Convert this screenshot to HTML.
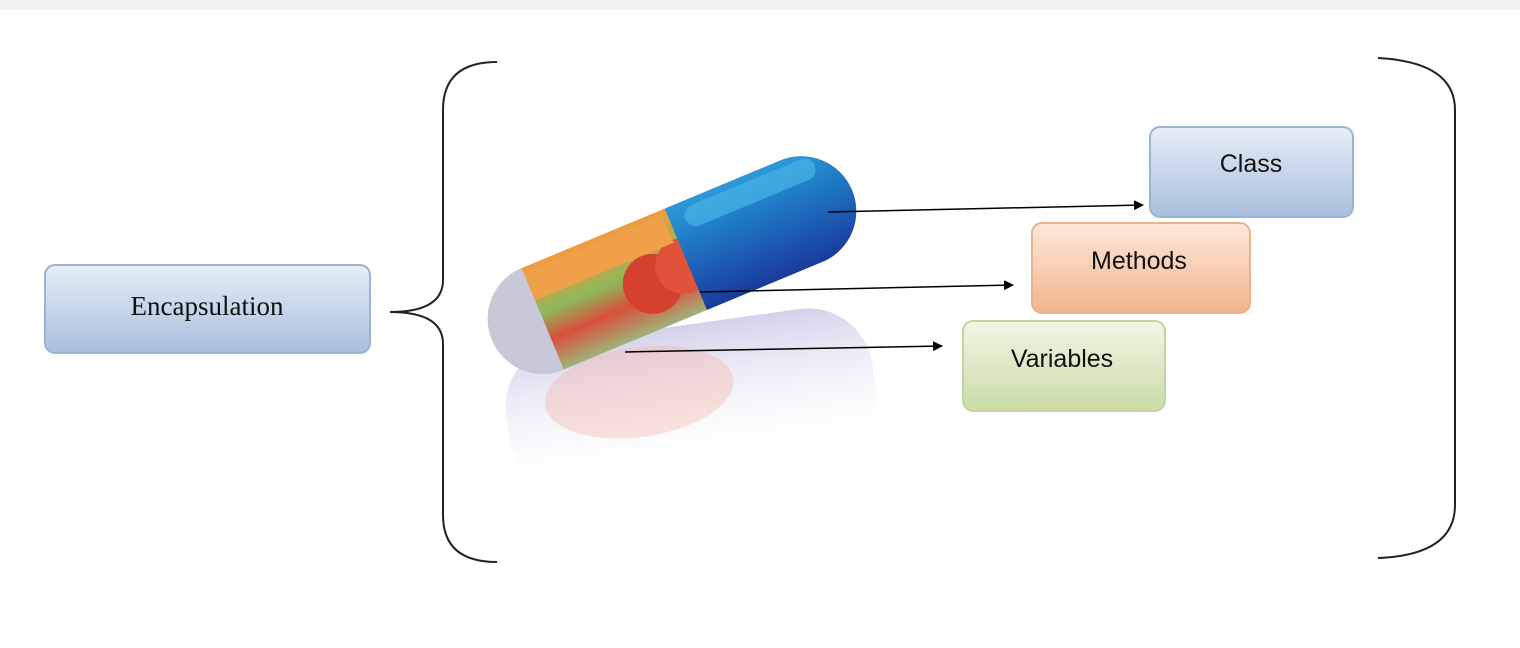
<!DOCTYPE html>
<html><head><meta charset="utf-8"><style>
html,body{margin:0;padding:0;background:#fff}
svg{display:block}
text{font-family:"Liberation Sans",sans-serif}
</style></head><body>
<svg width="1520" height="648" viewBox="0 0 1520 648">
<defs>
<linearGradient id="gBlue" x1="0" y1="0" x2="0" y2="1"><stop offset="0" stop-color="#e6eef8"/><stop offset="1" stop-color="#a9bfdc"/></linearGradient>
<linearGradient id="gOrange" x1="0" y1="0" x2="0" y2="1"><stop offset="0" stop-color="#fde9dc"/><stop offset="1" stop-color="#f2b48c"/></linearGradient>
<linearGradient id="gGreen" x1="0" y1="0" x2="0" y2="1"><stop offset="0" stop-color="#f1f6e6"/><stop offset="1" stop-color="#c9dca6"/></linearGradient>
<linearGradient id="gPillBlue" x1="0" y1="0" x2="0" y2="1"><stop offset="0" stop-color="#2d9ad8"/><stop offset="0.35" stop-color="#1f7ac6"/><stop offset="1" stop-color="#1a3a9c"/></linearGradient>
<linearGradient id="gFood" x1="0" y1="0" x2="0" y2="1"><stop offset="0" stop-color="#f19a3e"/><stop offset="0.45" stop-color="#8fb85a"/><stop offset="0.7" stop-color="#d9503b"/><stop offset="1" stop-color="#9fb37a"/></linearGradient>
<linearGradient id="gRefl" x1="0" y1="0" x2="0" y2="1"><stop offset="0" stop-color="#c9c6e6" stop-opacity="0.8"/><stop offset="1" stop-color="#fff" stop-opacity="0"/></linearGradient>
<marker id="arr" markerWidth="10" markerHeight="10" refX="9" refY="5" orient="auto" markerUnits="userSpaceOnUse"><path d="M0,0 L10,5 L0,10 z" fill="#000"/></marker>
<clipPath id="pillClip"><rect x="-195" y="-55" width="390" height="110" rx="55"/></clipPath>
</defs>
<rect x="0" y="0" width="1520" height="10" fill="#f2f2f2"/>

<g>
<rect x="45" y="265" width="325" height="88" rx="10" fill="url(#gBlue)" stroke="#9db3d3" stroke-width="2"/>
<text x="207" y="315" text-anchor="middle" font-size="27" style="font-family:'Liberation Serif',serif" fill="#111">Encapsulation</text>
</g>

<path d="M497,62 Q443,62 443,110 L443,280 Q443,312 390,312 Q443,312 443,344 L443,515 Q443,562 497,562" fill="none" stroke="#222" stroke-width="2"/>
<path d="M1378,58 Q1455,62 1455,110 L1455,505 Q1455,555 1378,558" fill="none" stroke="#222" stroke-width="2"/>

<g transform="translate(690,395) rotate(-8)">
<rect x="-185" y="-70" width="370" height="150" rx="65" fill="url(#gRefl)"/>
<ellipse cx="-50" cy="-10" rx="95" ry="45" fill="#f4b0a0" opacity="0.35"/>
</g>

<g transform="translate(672,265) rotate(-22.6)">
<g clip-path="url(#pillClip)">
<rect x="-195" y="-55" width="390" height="110" fill="url(#gFood)"/>
<rect x="-195" y="-55" width="55" height="110" fill="#c8c8d8"/>
<circle cx="-25" cy="10" r="30" fill="#d6412e"/>
<circle cx="10" cy="5" r="28" fill="#e0523a"/>
<rect x="-140" y="-50" width="150" height="30" fill="#f0a048"/>
<rect x="15" y="-55" width="185" height="110" fill="url(#gPillBlue)"/>
<rect x="30" y="-48" width="140" height="22" rx="11" fill="#49b3e6" opacity="0.7"/>
</g>
</g>

<g>
<rect x="1150" y="127" width="203" height="90" rx="10" fill="url(#gBlue)" stroke="#9db3d3" stroke-width="2"/>
<text x="1251" y="172" text-anchor="middle" font-size="25" fill="#111">Class</text>
</g>
<g>
<rect x="1032" y="223" width="218" height="90" rx="10" fill="url(#gOrange)" stroke="#eab28e" stroke-width="2"/>
<text x="1139" y="269" text-anchor="middle" font-size="25" fill="#111">Methods</text>
</g>
<g>
<rect x="963" y="321" width="202" height="90" rx="10" fill="url(#gGreen)" stroke="#c3d59e" stroke-width="2"/>
<text x="1062" y="367" text-anchor="middle" font-size="25" fill="#111">Variables</text>
</g>

<line x1="828" y1="212" x2="1143" y2="205" stroke="#000" stroke-width="1.5" marker-end="url(#arr)"/>
<line x1="700" y1="292" x2="1013" y2="285" stroke="#000" stroke-width="1.5" marker-end="url(#arr)"/>
<line x1="625" y1="352" x2="942" y2="346" stroke="#000" stroke-width="1.5" marker-end="url(#arr)"/>
</svg>
</body></html>
